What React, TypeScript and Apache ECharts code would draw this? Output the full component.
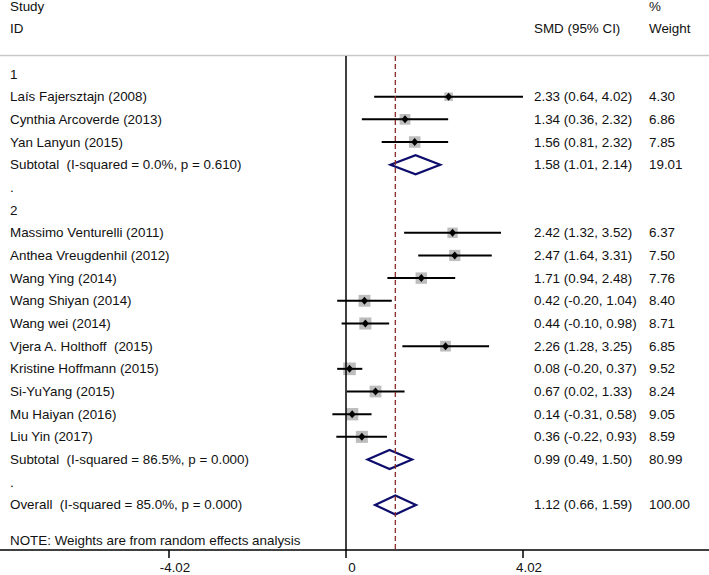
import React, { useEffect, useRef } from "react";
import * as echarts from "echarts";

// ---- data ----
const groupRows = [0, 5, 6, 18];
const groupLabels = ["1", ".", "2", "."];

const studyNames = [
  "Laís Fajersztajn (2008)",
  "Cynthia Arcoverde (2013)",
  "Yan Lanyun (2015)",
  "Massimo Venturelli (2011)",
  "Anthea Vreugdenhil (2012)",
  "Wang Ying (2014)",
  "Wang Shiyan (2014)",
  "Wang wei (2014)",
  "Vjera A. Holthoff  (2015)",
  "Kristine Hoffmann (2015)",
  "Si-YuYang (2015)",
  "Mu Haiyan (2016)",
  "Liu Yin (2017)",
];
const studyRows = [1, 2, 3, 7, 8, 9, 10, 11, 12, 13, 14, 15, 16];
const studySMD = [2.33, 1.34, 1.56, 2.42, 2.47, 1.71, 0.42, 0.44, 2.26, 0.08, 0.67, 0.14, 0.36];
const studyLow = [0.64, 0.36, 0.81, 1.32, 1.64, 0.94, -0.2, -0.1, 1.28, -0.2, 0.02, -0.31, -0.22];
const studyHigh = [4.02, 2.32, 2.32, 3.52, 3.31, 2.48, 1.04, 0.98, 3.25, 0.37, 1.33, 0.58, 0.93];
const studyWeight = [4.3, 6.86, 7.85, 6.37, 7.5, 7.76, 8.4, 8.71, 6.85, 9.52, 8.24, 9.05, 8.59];

const pooledNames = [
  "Subtotal  (I-squared = 0.0%, p = 0.610)",
  "Subtotal  (I-squared = 86.5%, p = 0.000)",
  "Overall  (I-squared = 85.0%, p = 0.000)",
];
const pooledRows = [4, 17, 19];
const pooledSMD = [1.58, 0.99, 1.12];
const pooledLow = [1.01, 0.49, 0.66];
const pooledHigh = [2.14, 1.5, 1.59];
const pooledWeight = [19.01, 80.99, 100.0];

const overallSMD = 1.12;
const tickValues = [-4.02, 0, 4.02];
const noteText = "NOTE: Weights are from random effects analysis";
const noteRow = 20.56;

// ---- layout ----
const FONT_SIZE = 13.4;
const FONT = `${FONT_SIZE}px "Liberation Sans", Arial, Helvetica, sans-serif`;
const TXT = "#111";
const X_NAME = 10;
const X_SMD = 534;
const X_W = 649;
const Y_MIN = -3.263;
const Y_MAX = 20.988;
const LINE_TOP = -0.79;

const fmt = (v: number) => v.toFixed(2);
const ciText = (m: number, l: number, h: number) => `${fmt(m)} (${fmt(l)}, ${fmt(h)})`;

export default function App() {
  const ref = useRef<HTMLDivElement>(null);
  useEffect(() => {
    if (!ref.current) return;
    const chart = echarts.init(ref.current, null, { renderer: "svg" });

    const textEl = (x: number, y: number, text: string) => ({
      type: "text",
      x,
      y,
      style: { text, fill: TXT, font: FONT, align: "left", verticalAlign: "middle" },
    });

    const option: any = {
      animation: false,
      backgroundColor: "#fff",
      grid: { left: 0, right: 0, top: 0, bottom: 25, containLabel: false, outerBoundsMode: "none" },
      xAxis: {
        type: "value",
        min: -7.858,
        max: 8.244,
        axisLine: { show: true, onZero: false, lineStyle: { color: "#000", width: 1.5 } },
        axisTick: { show: true, customValues: tickValues, length: 8, lineStyle: { color: "#000", width: 1.5 } },
        axisLabel: {
          customValues: tickValues,
          formatter: (v: number) => (v === 0 ? "0" : fmt(v)),
          color: TXT,
          fontFamily: '"Liberation Sans", Arial, sans-serif',
          fontSize: FONT_SIZE,
          margin: 11,
          padding: [0, 0, 0, 12],
        },
        splitLine: { show: false },
      },
      yAxis: { type: "value", inverse: true, min: Y_MIN, max: Y_MAX, show: false, splitLine: { show: false } },
      graphic: [
        { type: "line", shape: { x1: 0, y1: 55.5, x2: 709, y2: 55.5 }, style: { stroke: "#c8c8c8", lineWidth: 1.5 } },
        textEl(X_NAME, 6, "Study"),
        textEl(X_NAME, 28, "ID"),
        textEl(X_SMD, 28, "SMD (95% CI)"),
        textEl(X_W, 6, "%"),
        textEl(X_W, 28, "Weight"),
      ],
      series: [
        {
          type: "line",
          data: [[0, LINE_TOP], [0, Y_MAX]],
          symbol: "none",
          lineStyle: { color: "#000", width: 1.5 },
          silent: true,
        },
        {
          type: "line",
          data: [[overallSMD, LINE_TOP], [overallSMD, Y_MAX]],
          symbol: "none",
          lineStyle: { color: "#8c2a2a", width: 1.3, type: [5, 3] },
          silent: true,
        },
        {
          type: "custom",
          data: groupRows.map((r) => [0, r]),
          renderItem: (params: any, api: any) => {
            const c = api.coord([0, api.value(1)]);
            return textEl(X_NAME, c[1], groupLabels[params.dataIndex]);
          },
          silent: true,
        },
        {
          type: "custom",
          data: [[0, noteRow]],
          renderItem: (params: any, api: any) => {
            const c = api.coord([0, api.value(1)]);
            return textEl(X_NAME, c[1], noteText);
          },
          silent: true,
        },
        {
          type: "custom",
          data: studySMD.map((m, i) => [m, studyRows[i], studyLow[i], studyHigh[i], studyWeight[i]]),
          renderItem: (params: any, api: any) => {
            const i = params.dataIndex;
            const k = api.value(1);
            const c = api.coord([api.value(0), k]);
            const lo = api.coord([api.value(2), k]);
            const hi = api.coord([api.value(3), k]);
            const side = 4.1 * Math.sqrt(api.value(4));
            return {
              type: "group",
              children: [
                { type: "rect", shape: { x: c[0] - side / 2, y: c[1] - side / 2, width: side, height: side }, style: { fill: "#bdbdbd" } },
                { type: "line", shape: { x1: lo[0], y1: c[1], x2: hi[0], y2: c[1] }, style: { stroke: "#000", lineWidth: 2 } },
                {
                  type: "polygon",
                  shape: { points: [[c[0] - 3.5, c[1]], [c[0], c[1] - 4], [c[0] + 3.5, c[1]], [c[0], c[1] + 4]] },
                  style: { fill: "#000" },
                },
                textEl(X_NAME, c[1], studyNames[i]),
                textEl(X_SMD, c[1], ciText(studySMD[i], studyLow[i], studyHigh[i])),
                textEl(X_W, c[1], fmt(studyWeight[i])),
              ],
            };
          },
          silent: true,
        },
        {
          type: "custom",
          data: pooledSMD.map((m, i) => [m, pooledRows[i], pooledLow[i], pooledHigh[i], pooledWeight[i]]),
          renderItem: (params: any, api: any) => {
            const i = params.dataIndex;
            const k = api.value(1);
            const c = api.coord([api.value(0), k]);
            const lo = api.coord([api.value(2), k]);
            const hi = api.coord([api.value(3), k]);
            const h = 9.5;
            return {
              type: "group",
              children: [
                {
                  type: "polygon",
                  shape: { points: [[lo[0], c[1]], [c[0], c[1] - h], [hi[0], c[1]], [c[0], c[1] + h]] },
                  style: { fill: "none", stroke: "#0d0d6b", lineWidth: 2.2 },
                },
                textEl(X_NAME, c[1], pooledNames[i]),
                textEl(X_SMD, c[1], ciText(pooledSMD[i], pooledLow[i], pooledHigh[i])),
                textEl(X_W, c[1], fmt(pooledWeight[i])),
              ],
            };
          },
          silent: true,
        },
      ],
    };
    chart.setOption(option);
    return () => chart.dispose();
  }, []);
  return <div ref={ref} style={{ position: "fixed", left: 0, top: 0, width: 709, height: 575 }} />;
}
